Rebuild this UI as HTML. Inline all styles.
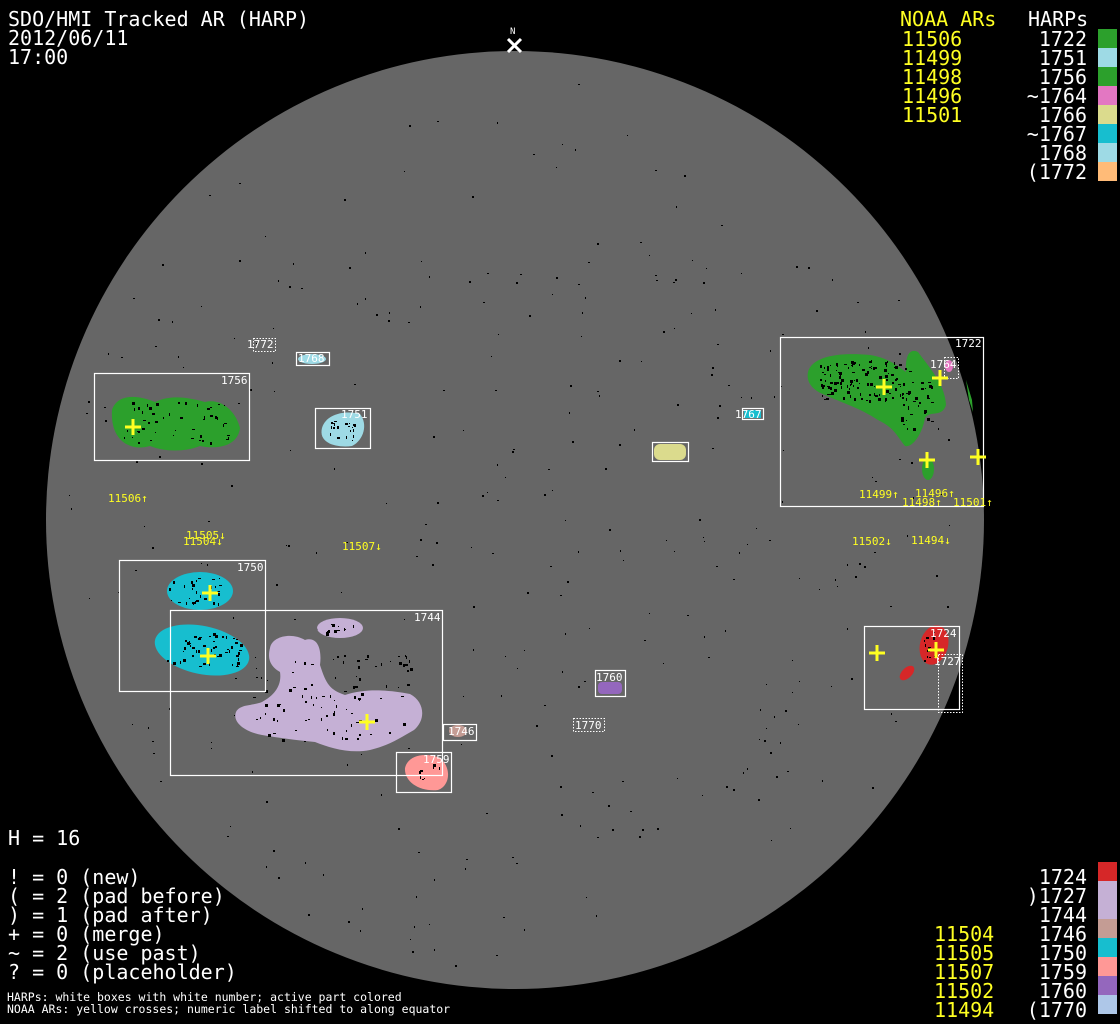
<!DOCTYPE html>
<html><head><meta charset="utf-8"><style>
html,body{margin:0;padding:0;background:#000;}
svg{display:block;}
text{font-family:"DejaVu Sans Mono","Liberation Mono",monospace;}
.big{font-size:20px;}
.sm{font-size:11px;fill:#fff;}
.y{fill:#ffff22;}
.w{fill:#fff;}
.ys{font-size:11px;fill:#ffff22;}
</style></head><body>
<svg id="s" width="1120" height="1024" viewBox="0 0 1120 1024" xmlns="http://www.w3.org/2000/svg">
<rect width="1120" height="1024" fill="#000"/>
<circle cx="515" cy="520" r="469" fill="#666"/>
<g id="dots"></g>

<path d="M112,410 C118,392 140,396 155,402 C172,394 190,398 205,402 C222,398 236,412 240,428 C238,445 220,450 200,446 C185,452 165,452 150,446 C130,452 110,440 112,410Z" fill="#2ca02c"/>
<ellipse cx="312" cy="359" rx="14" ry="5" fill="#9edae5"/>
<path d="M322,428 C326,414 345,410 360,414 C368,424 364,440 352,446 C338,448 318,444 322,428Z" fill="#9edae5"/>
<rect x="654" y="444" width="32" height="16" rx="6" fill="#dbdb8d"/>
<rect x="744" y="410" width="17" height="8" fill="#17becf"/>
<path d="M808,372 C812,356 840,352 870,355 C890,358 900,368 906,372 C905,355 910,348 918,352 C930,368 945,385 946,405 C942,418 930,410 925,418 C922,435 912,448 905,446 C898,438 895,428 878,420 C860,408 840,402 825,395 C812,390 806,382 808,372Z" fill="#2ca02c"/>
<ellipse cx="928" cy="469" rx="6" ry="11" fill="#2ca02c"/>
<path d="M966,380 L972,400 L973,412 L969,400Z" fill="#2ca02c"/>
<ellipse cx="949" cy="366" rx="4" ry="6" fill="#e377c2"/>
<ellipse cx="200" cy="591" rx="33" ry="19" fill="#17becf"/>
<ellipse cx="202" cy="650" rx="48" ry="24" transform="rotate(12 202 650)" fill="#17becf"/>
<path d="M270,648 C272,636 292,632 305,640 C318,636 322,650 320,665 C326,684 330,690 345,695 C365,688 390,690 410,694 C425,702 426,720 414,730 C400,738 390,745 370,750 C350,754 330,748 315,742 C295,740 280,738 262,735 C245,732 232,722 236,712 C240,704 252,706 262,702 C275,695 282,685 280,672 C268,665 268,656 270,648Z" fill="#c5b0d5"/>
<ellipse cx="340" cy="628" rx="23" ry="10" fill="#c5b0d5"/>
<ellipse cx="458" cy="731" rx="9" ry="6" fill="#c49c94"/>
<path d="M405,768 C408,755 425,752 440,758 C452,768 450,786 438,790 C420,792 404,782 405,768Z" fill="#ff9896"/>
<rect x="598" y="682" width="24" height="12" rx="4" fill="#9467bd"/>
<ellipse cx="934" cy="645" rx="14" ry="20" transform="rotate(15 934 645)" fill="#d62728"/>
<ellipse cx="907" cy="673" rx="5" ry="9" transform="rotate(45 907 673)" fill="#d62728"/>
<g id="spots"></g>

<g fill="none" stroke="#fff" stroke-width="1.2">
<rect x="94.5" y="373.5" width="155" height="87"/>
<rect x="296.5" y="352.5" width="33" height="13"/>
<rect x="315.5" y="408.5" width="55" height="40"/>
<rect x="652.5" y="442.5" width="36" height="19"/>
<rect x="742.5" y="408.5" width="21" height="11"/>
<rect x="780.5" y="337.5" width="203" height="169"/>
<rect x="119.5" y="560.5" width="146" height="131"/>
<rect x="170.5" y="610.5" width="272" height="165"/>
<rect x="443.5" y="724.5" width="33" height="16"/>
<rect x="396.5" y="752.5" width="55" height="40"/>
<rect x="595.5" y="670.5" width="30" height="26"/>
<rect x="864.5" y="626.5" width="95" height="83"/>
</g>
<g fill="none" stroke="#fff" stroke-width="1" stroke-dasharray="1.5,1.5">
<rect x="253.5" y="338.5" width="22" height="13"/>
<rect x="944.5" y="357.5" width="14" height="21"/>
<rect x="573.5" y="718.5" width="31" height="13"/>
<rect x="938.5" y="654.5" width="24" height="58"/>
</g>

<g class="sm">
<text x="247" y="348">1772</text>
<text x="298" y="362">1768</text>
<text x="221" y="384">1756</text>
<text x="341" y="418">1751</text>
<text x="735" y="418">1767</text>
<text x="955" y="347">1722</text>
<text x="930" y="368">1764</text>
<text x="237" y="571">1750</text>
<text x="414" y="621">1744</text>
<text x="448" y="735">1746</text>
<text x="423" y="763">1759</text>
<text x="596" y="681">1760</text>
<text x="575" y="729">1770</text>
<text x="930" y="637">1724</text>
<text x="934" y="665">1727</text>
</g>

<g stroke="#ffff22" stroke-width="3">
<path d="M125,427h16M133,419v16"/>
<path d="M876,387h16M884,379v16"/>
<path d="M932,378h16M940,370v16"/>
<path d="M919,460h16M927,452v16"/>
<path d="M970,457h16M978,449v16"/>
<path d="M202,593h16M210,585v16"/>
<path d="M200,656h16M208,648v16"/>
<path d="M359,722h16M367,714v16"/>
<path d="M869,653h16M877,645v16"/>
<path d="M928,650h16M936,642v16"/>
</g>

<g class="ys">
<text x="108" y="502">11506↑</text>
<text x="186" y="539">11505↓</text>
<text x="183" y="545">11504↓</text>
<text x="342" y="550">11507↓</text>
<text x="852" y="545">11502↓</text>
<text x="911" y="544">11494↓</text>
<text x="859" y="498">11499↑</text>
<text x="915" y="497">11496↑</text>
<text x="902" y="506">11498↑</text>
<text x="953" y="506">11501↑</text>
</g>

<text x="510" y="34" class="sm" style="font-size:9px">N</text>
<path d="M508,39l13,13M521,39l-13,13" stroke="#fff" stroke-width="3"/>

<g class="big w">
<text x="8" y="26">SDO/HMI Tracked AR (HARP)</text>
<text x="8" y="45">2012/06/11</text>
<text x="8" y="64">17:00</text>
</g>

<g class="big">
<text x="900" y="26" class="y">NOAA ARs</text>
<text x="1028" y="26" class="w">HARPs</text>
<text x="902" y="46" class="y">11506</text>
<text x="902" y="65" class="y">11499</text>
<text x="902" y="84" class="y">11498</text>
<text x="902" y="103" class="y">11496</text>
<text x="902" y="122" class="y">11501</text>
</g>
<g class="big w" text-anchor="end">
<text x="1087" y="46">1722</text>
<text x="1087" y="65">1751</text>
<text x="1087" y="84">1756</text>
<text x="1087" y="103">~1764</text>
<text x="1087" y="122">1766</text>
<text x="1087" y="141">~1767</text>
<text x="1087" y="160">1768</text>
<text x="1087" y="179">(1772</text>
</g>
<rect x="1098" y="29" width="19" height="19" fill="#2ca02c"/>
<rect x="1098" y="48" width="19" height="19" fill="#9edae5"/>
<rect x="1098" y="67" width="19" height="19" fill="#2ca02c"/>
<rect x="1098" y="86" width="19" height="19" fill="#e377c2"/>
<rect x="1098" y="105" width="19" height="19" fill="#dbdb8d"/>
<rect x="1098" y="124" width="19" height="19" fill="#17becf"/>
<rect x="1098" y="143" width="19" height="19" fill="#9edae5"/>
<rect x="1098" y="162" width="19" height="19" fill="#ffbb78"/>

<g class="big w">
<text x="8" y="845">H = 16</text>
<text x="8" y="884">! = 0 (new)</text>
<text x="8" y="903">( = 2 (pad before)</text>
<text x="8" y="922">) = 1 (pad after)</text>
<text x="8" y="941">+ = 0 (merge)</text>
<text x="8" y="960">~ = 2 (use past)</text>
<text x="8" y="979">? = 0 (placeholder)</text>
</g>
<text x="7" y="1001" class="sm" style="font-size:11.5px">HARPs: white boxes with white number; active part colored</text>
<text x="7" y="1013" class="sm" style="font-size:11.5px">NOAA ARs: yellow crosses; numeric label shifted to along equator</text>

<g class="big y">
<text x="934" y="941">11504</text>
<text x="934" y="960">11505</text>
<text x="934" y="979">11507</text>
<text x="934" y="998">11502</text>
<text x="934" y="1017">11494</text>
</g>
<g class="big w" text-anchor="end">
<text x="1087" y="884">1724</text>
<text x="1087" y="903">)1727</text>
<text x="1087" y="922">1744</text>
<text x="1087" y="941">1746</text>
<text x="1087" y="960">1750</text>
<text x="1087" y="979">1759</text>
<text x="1087" y="998">1760</text>
<text x="1087" y="1017">(1770</text>
</g>
<rect x="1098" y="862" width="19" height="19" fill="#d62728"/>
<rect x="1098" y="881" width="19" height="38" fill="#c5b0d5"/>
<rect x="1098" y="919" width="19" height="19" fill="#c49c94"/>
<rect x="1098" y="938" width="19" height="19" fill="#17becf"/>
<rect x="1098" y="957" width="19" height="19" fill="#ff9896"/>
<rect x="1098" y="976" width="19" height="19" fill="#9467bd"/>
<rect x="1098" y="995" width="19" height="19" fill="#aec7e8"/>
</svg>
<script>
(function(){
var seed=12345;function r(){seed=(seed*1103515245+12345)%2147483648;return seed/2147483648;}
var g=document.getElementById("dots"),h="";
for(var i=0;i<380;i++){var a=r()*6.283,d=Math.sqrt(r())*450;var x=515+Math.cos(a)*d,y=520+Math.sin(a)*d;
if(y<250&&r()<0.7)continue;
h+='<rect x="'+x.toFixed(0)+'" y="'+y.toFixed(0)+'" width="'+(1+Math.floor(r()*2))+'" height="'+(1+Math.floor(r()*2))+'" fill="#000"/>';}
g.innerHTML=h;
var sp=document.getElementById("spots"),h2="";
var regs=[[120,402,110,40,50],[820,360,90,40,120],[900,380,35,50,30],[165,578,55,25,30],[165,632,75,35,50],[250,655,160,85,90],[325,622,30,12,12],[330,420,25,20,20],[415,760,25,20,8],[922,632,20,30,12]];
regs.forEach(function(q){for(var k=0;k<q[4];k++){var x=q[0]+r()*q[2],y=q[1]+r()*q[3];h2+='<rect x="'+x.toFixed(0)+'" y="'+y.toFixed(0)+'" width="'+(1+Math.floor(r()*3))+'" height="'+(1+Math.floor(r()*3))+'" fill="#000"/>';}});
sp.innerHTML=h2;
})();
</script>
</body></html>
